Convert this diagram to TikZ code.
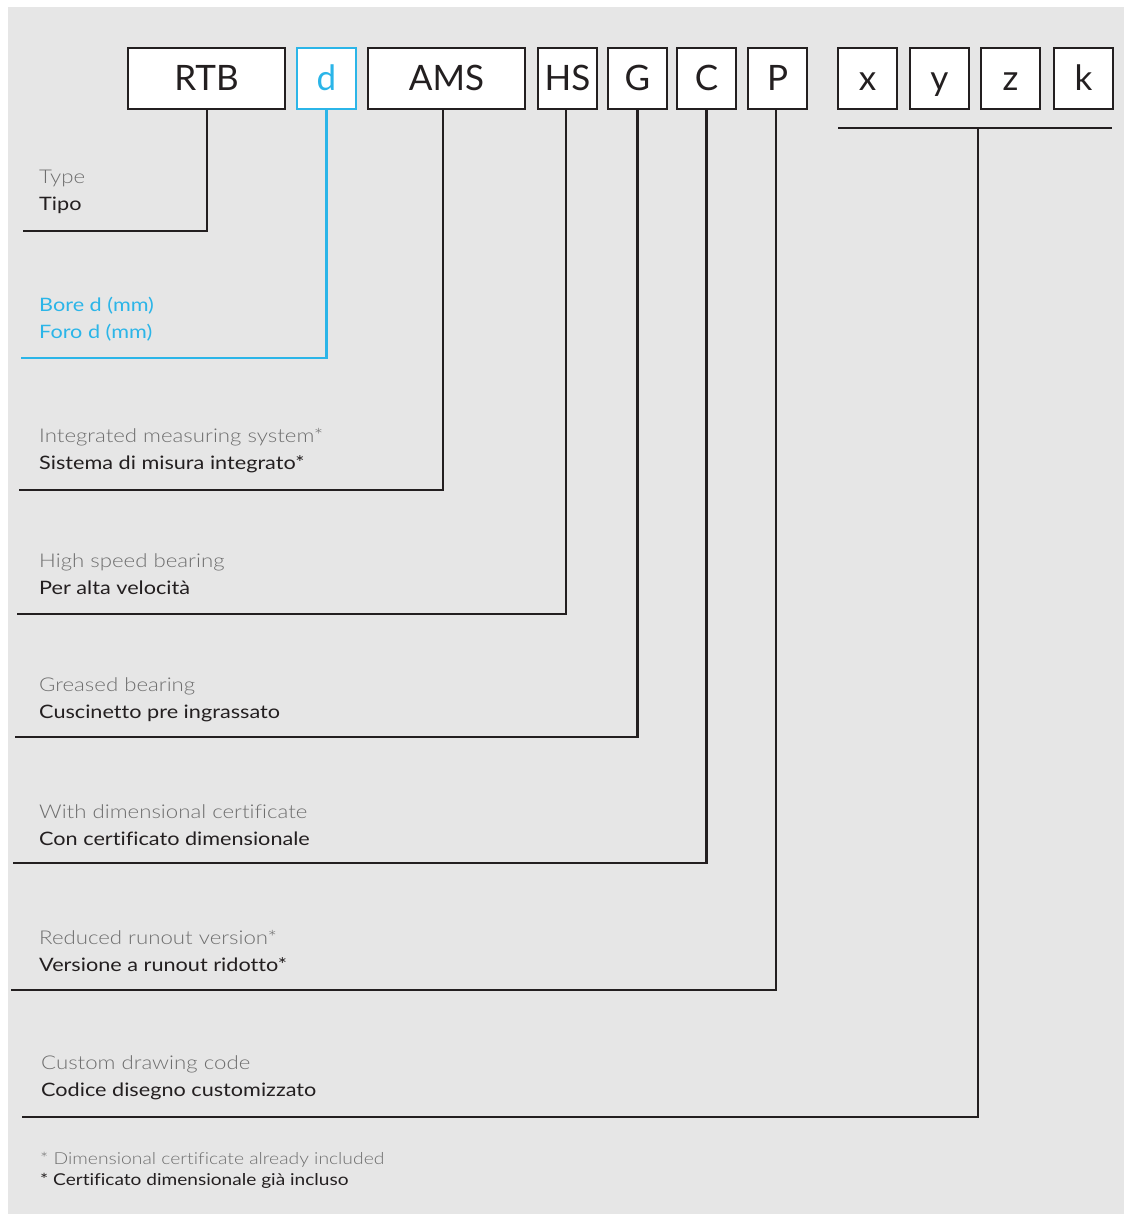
\documentclass[tikz,border=0pt]{standalone}
\usepackage{fontspec}
\setmainfont{Lato}
\newfontfamily\labelfont{Lato}[FakeStretch=1.17, Ligatures=NoCommon]
\IfFontExistsTF{Lato Light}
  {\newfontfamily\lightfont{Lato Light}[FakeStretch=1.17, Ligatures=NoCommon]}
  {\newfontfamily\lightfont{Lato}[FakeStretch=1.17, Ligatures=NoCommon]}
\definecolor{bg}{HTML}{E6E6E6}
\definecolor{ink}{HTML}{231F20}
\definecolor{greytxt}{HTML}{6E6E6E}
\definecolor{cyanb}{HTML}{2BB5E8}
\tikzset{
  codebox/.style={draw=ink, line width=2pt, fill=white, inner sep=0pt,
    minimum height=61pt, text=ink, font=\fontsize{35}{35}\selectfont,
    text height=25pt, text depth=0pt},
  cyanbox/.style={codebox, draw=cyanb, text=cyanb},
  lead/.style={draw=ink, line width=2.5pt},
  cyanlead/.style={draw=cyanb, line width=2.5pt},
  entxt/.style={anchor=base west, inner sep=0pt, text=greytxt, font=\lightfont\fontsize{19}{19}\selectfont},
  ittxt/.style={anchor=base west, inner sep=0pt, text=ink, font=\labelfont\fontsize{18.5}{18.5}\selectfont},
  cyantxt/.style={anchor=base west, inner sep=0pt, text=cyanb, font=\labelfont\fontsize{18.5}{18.5}\selectfont},
  fnen/.style={anchor=base west, inner sep=0pt, text=greytxt, font=\lightfont\fontsize{16.5}{16.5}\selectfont},
  fnit/.style={anchor=base west, inner sep=0pt, text=ink, font=\labelfont\fontsize{16.3}{16.3}\selectfont},
}
\begin{document}
\begin{tikzpicture}[x=1pt, y=-1pt]
\useasboundingbox (0,0) rectangle (1124,1214);
\fill[white] (0,0) rectangle (1124,1214);
\fill[bg] (8,7) rectangle (1124,1214);

% code boxes
\node[codebox, minimum width=157pt] (rtb) at (206.5,78.5) {RTB};
\node[cyanbox, minimum width=59pt] (d) at (326.5,78.5) {d};
\node[codebox, minimum width=157pt] (ams) at (446.5,78.5) {AMS};
\node[codebox, minimum width=59pt] (hs) at (567.5,78.5) {HS};
\node[codebox, minimum width=59pt] (g) at (637.5,78.5) {G};
\node[codebox, minimum width=59pt] (c) at (706.5,78.5) {C};
\node[codebox, minimum width=59pt] (p) at (777.5,78.5) {P};
\node[codebox, minimum width=59pt] (x) at (867.5,78.5) {x};
\node[codebox, minimum width=59pt] (y) at (939.5,78.5) {y};
\node[codebox, minimum width=59pt] (z) at (1010.5,78.5) {z};
\node[codebox, minimum width=59pt] (k) at (1083.5,78.5) {k};

% free ends of connectors
\coordinate (eRTB) at (23,231);
\coordinate (eD) at (21,358);
\coordinate (eAMS) at (19,490);
\coordinate (eHS) at (17,614);
\coordinate (eG) at (15,737);
\coordinate (eC) at (13,863);
\coordinate (eP) at (11,990);
\coordinate (eX) at (22,1117);
\coordinate (barL) at (838,128);
\coordinate (barR) at (1112,128);
\coordinate (barM) at (978,128);

% connectors
\draw[lead] (rtb.south -| 207,0) |- (eRTB);
\draw[cyanlead] (d.south) |- (eD);
\draw[lead] (ams.south -| 443,0) |- (eAMS);
\draw[lead] (hs.south -| 566,0) |- (eHS);
\draw[lead] (g.south) |- (eG);
\draw[lead] (c.south) |- (eC);
\draw[lead] (p.south -| 776,0) |- (eP);
\draw[lead] (barL) -- (barR);
\draw[lead] (barM) |- (eX);

% labels
\node[entxt] (l1a) at (39,184) {Type};
\node[ittxt] (l1b) at (39,211) {Tipo};
\node[cyantxt] (l2a) at (39,311) {Bore d (mm)};
\node[cyantxt] (l2b) at (39,338) {Foro d (mm)};
\node[entxt] (l3a) at (39,442) {Integrated measuring system*};
\node[ittxt] (l3b) at (39,469) {Sistema di misura integrato*};
\node[entxt] (l4a) at (39,567) {High speed bearing};
\node[ittxt] (l4b) at (39,594) {Per alta velocità};
\node[entxt] (l5a) at (39,691) {Greased bearing};
\node[ittxt] (l5b) at (39,718) {Cuscinetto pre ingrassato};
\node[entxt] (l6a) at (39,818) {With dimensional certificate};
\node[ittxt] (l6b) at (39,845) {Con certificato dimensionale};
\node[entxt] (l7a) at (39,944) {Reduced runout version*};
\node[ittxt] (l7b) at (39,971) {Versione a runout ridotto*};
\node[entxt] (l8a) at (41,1069) {Custom drawing code};
\node[ittxt] (l8b) at (41,1096) {Codice disegno customizzato};
\node[fnen] (f1) at (40,1164) {* Dimensional certificate already included};
\node[fnit] (f2) at (40,1185) {* Certificato dimensionale già incluso};
\end{tikzpicture}
\end{document}
